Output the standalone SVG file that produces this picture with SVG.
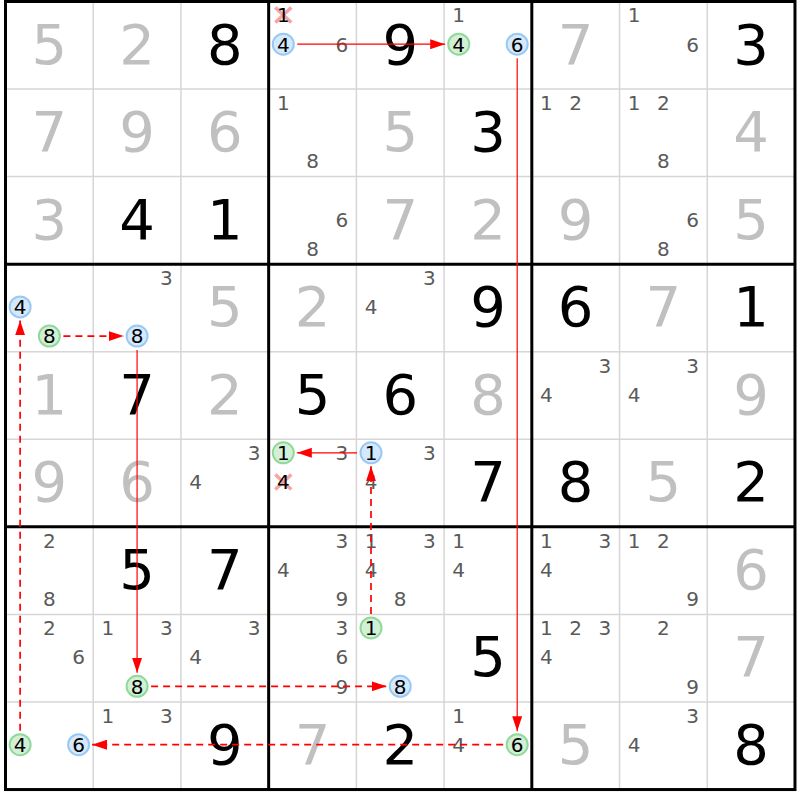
<svg xmlns="http://www.w3.org/2000/svg" width="800" height="800" viewBox="0 0 800 800">
<style>
.thin{stroke:#d6d6d6;stroke-width:1.5}
.thick{stroke:#000;stroke-width:3}
.big{font-family:"DejaVu Sans",Verdana,sans-serif;font-size:56px;text-anchor:middle}
.given{fill:#000}
.solved{fill:#c0c0c0}
.cand{font-family:"DejaVu Sans",Verdana,sans-serif;font-size:20px;text-anchor:middle;fill:#5a5a5a}
.cand .k{fill:#000}
.cb{fill:#d5e9fd;stroke:#99c8f4;stroke-width:2}
.cg{fill:#d3f0d6;stroke:#8fd99b;stroke-width:2}
.xm{stroke:#f39c9c;stroke-width:3.5;stroke-linecap:butt;opacity:0.9}
.sl{stroke:#ff0000;stroke-width:1.2;fill:none}
.dl{stroke:#ff0000;stroke-width:1.7;fill:none;stroke-dasharray:7,5}
</style>
<defs>
<marker id="ah" markerUnits="userSpaceOnUse" markerWidth="15" markerHeight="10" refX="15" refY="5" orient="auto" viewBox="0 0 15 10">
<path d="M0,0 L15,5 L0,10 z" fill="#ff0000"/>
</marker>
</defs>
<rect x="0" y="0" width="800" height="800" fill="#fff"/>
<g id="grid">
<g class="thin">
<line x1="93.22" y1="1.5" x2="93.22" y2="789.54"/>
<line x1="180.94" y1="1.5" x2="180.94" y2="789.54"/>
<line x1="356.38" y1="1.5" x2="356.38" y2="789.54"/>
<line x1="444.1" y1="1.5" x2="444.1" y2="789.54"/>
<line x1="619.54" y1="1.5" x2="619.54" y2="789.54"/>
<line x1="707.26" y1="1.5" x2="707.26" y2="789.54"/>
<line x1="5.5" y1="89.06" x2="794.98" y2="89.06"/>
<line x1="5.5" y1="176.62" x2="794.98" y2="176.62"/>
<line x1="5.5" y1="351.74" x2="794.98" y2="351.74"/>
<line x1="5.5" y1="439.3" x2="794.98" y2="439.3"/>
<line x1="5.5" y1="614.42" x2="794.98" y2="614.42"/>
<line x1="5.5" y1="701.98" x2="794.98" y2="701.98"/>
</g>
<g class="thick">
<line x1="268.66" y1="1.5" x2="268.66" y2="789.54"/>
<line x1="531.82" y1="1.5" x2="531.82" y2="789.54"/>
<line x1="5.5" y1="264.18" x2="794.98" y2="264.18"/>
<line x1="5.5" y1="526.86" x2="794.98" y2="526.86"/>
<rect x="5.5" y="1.5" width="789.48" height="788.04" fill="none"/>
</g>
</g>
<g id="values" class="big">
<text class="solved" x="49.36" y="63.5">5</text>
<text class="solved" x="137.08" y="63.5">2</text>
<text class="given" x="224.8" y="63.5">8</text>
<text class="given" x="400.24" y="63.5">9</text>
<text class="solved" x="575.68" y="63.5">7</text>
<text class="given" x="751.12" y="63.5">3</text>
<text class="solved" x="49.36" y="151.06">7</text>
<text class="solved" x="137.08" y="151.06">9</text>
<text class="solved" x="224.8" y="151.06">6</text>
<text class="solved" x="400.24" y="151.06">5</text>
<text class="given" x="487.96" y="151.06">3</text>
<text class="solved" x="751.12" y="151.06">4</text>
<text class="solved" x="49.36" y="238.62">3</text>
<text class="given" x="137.08" y="238.62">4</text>
<text class="given" x="224.8" y="238.62">1</text>
<text class="solved" x="400.24" y="238.62">7</text>
<text class="solved" x="487.96" y="238.62">2</text>
<text class="solved" x="575.68" y="238.62">9</text>
<text class="solved" x="751.12" y="238.62">5</text>
<text class="solved" x="224.8" y="326.18">5</text>
<text class="solved" x="312.52" y="326.18">2</text>
<text class="given" x="487.96" y="326.18">9</text>
<text class="given" x="575.68" y="326.18">6</text>
<text class="solved" x="663.4" y="326.18">7</text>
<text class="given" x="751.12" y="326.18">1</text>
<text class="solved" x="49.36" y="413.74">1</text>
<text class="given" x="137.08" y="413.74">7</text>
<text class="solved" x="224.8" y="413.74">2</text>
<text class="given" x="312.52" y="413.74">5</text>
<text class="given" x="400.24" y="413.74">6</text>
<text class="solved" x="487.96" y="413.74">8</text>
<text class="solved" x="751.12" y="413.74">9</text>
<text class="solved" x="49.36" y="501.3">9</text>
<text class="solved" x="137.08" y="501.3">6</text>
<text class="given" x="487.96" y="501.3">7</text>
<text class="given" x="575.68" y="501.3">8</text>
<text class="solved" x="663.4" y="501.3">5</text>
<text class="given" x="751.12" y="501.3">2</text>
<text class="given" x="137.08" y="588.86">5</text>
<text class="given" x="224.8" y="588.86">7</text>
<text class="solved" x="751.12" y="588.86">6</text>
<text class="given" x="487.96" y="676.42">5</text>
<text class="solved" x="751.12" y="676.42">7</text>
<text class="given" x="224.8" y="763.98">9</text>
<text class="solved" x="312.52" y="763.98">7</text>
<text class="given" x="400.24" y="763.98">2</text>
<text class="solved" x="575.68" y="763.98">5</text>
<text class="given" x="751.12" y="763.98">8</text>
</g>
<g id="eliminations">
<g id="x-r1c4-1"><line class="xm" x1="275.3" y1="7.5" x2="291.3" y2="22.5"/><line class="xm" x1="291.3" y1="7.5" x2="275.3" y2="22.5"/></g>
<g id="x-r6c4-4"><line class="xm" x1="275.3" y1="474.5" x2="291.3" y2="489.5"/><line class="xm" x1="291.3" y1="474.5" x2="275.3" y2="489.5"/></g>
</g>
<g id="chain-nodes">
<circle id="n-r1c4-4" class="cb" cx="283.28" cy="44.2" r="10.5"/>
<circle id="n-r1c6-4" class="cg" cx="458.72" cy="44.2" r="10.5"/>
<circle id="n-r1c6-6" class="cb" cx="517.2" cy="44.2" r="10.5"/>
<circle id="n-r4c1-4" class="cb" cx="20.12" cy="306.88" r="10.5"/>
<circle id="n-r4c1-8" class="cg" cx="49.36" cy="336.08" r="10.5"/>
<circle id="n-r4c2-8" class="cb" cx="137.08" cy="336.08" r="10.5"/>
<circle id="n-r6c4-1" class="cg" cx="283.28" cy="452.8" r="10.5"/>
<circle id="n-r6c5-1" class="cb" cx="371" cy="452.8" r="10.5"/>
<circle id="n-r8c2-8" class="cg" cx="137.08" cy="686.32" r="10.5"/>
<circle id="n-r8c5-1" class="cg" cx="371" cy="627.92" r="10.5"/>
<circle id="n-r8c5-8" class="cb" cx="400.24" cy="686.32" r="10.5"/>
<circle id="n-r9c1-4" class="cg" cx="20.12" cy="744.68" r="10.5"/>
<circle id="n-r9c1-6" class="cb" cx="78.6" cy="744.68" r="10.5"/>
<circle id="n-r9c6-6" class="cg" cx="517.2" cy="744.68" r="10.5"/>
</g>
<g id="candidates" class="cand">
<text class="k" x="283.28" y="22.3">1</text>
<text class="k" x="283.28" y="51.5">4</text>
<text x="341.76" y="51.5">6</text>
<text x="458.72" y="22.3">1</text>
<text class="k" x="458.72" y="51.5">4</text>
<text class="k" x="517.2" y="51.5">6</text>
<text x="634.16" y="22.3">1</text>
<text x="692.64" y="51.5">6</text>
<text x="283.28" y="109.86">1</text>
<text x="312.52" y="168.26">8</text>
<text x="546.44" y="109.86">1</text>
<text x="575.68" y="109.86">2</text>
<text x="634.16" y="109.86">1</text>
<text x="663.4" y="109.86">2</text>
<text x="663.4" y="168.26">8</text>
<text x="341.76" y="226.62">6</text>
<text x="312.52" y="255.82">8</text>
<text x="692.64" y="226.62">6</text>
<text x="663.4" y="255.82">8</text>
<text class="k" x="20.12" y="314.18">4</text>
<text class="k" x="49.36" y="343.38">8</text>
<text x="166.32" y="284.98">3</text>
<text class="k" x="137.08" y="343.38">8</text>
<text x="429.48" y="284.98">3</text>
<text x="371" y="314.18">4</text>
<text x="604.92" y="372.54">3</text>
<text x="546.44" y="401.74">4</text>
<text x="692.64" y="372.54">3</text>
<text x="634.16" y="401.74">4</text>
<text x="254.04" y="460.1">3</text>
<text x="195.56" y="489.3">4</text>
<text class="k" x="283.28" y="460.1">1</text>
<text x="341.76" y="460.1">3</text>
<text class="k" x="283.28" y="489.3">4</text>
<text class="k" x="371" y="460.1">1</text>
<text x="429.48" y="460.1">3</text>
<text x="371" y="489.3">4</text>
<text x="49.36" y="547.66">2</text>
<text x="49.36" y="606.06">8</text>
<text x="341.76" y="547.66">3</text>
<text x="283.28" y="576.86">4</text>
<text x="341.76" y="606.06">9</text>
<text x="371" y="547.66">1</text>
<text x="429.48" y="547.66">3</text>
<text x="371" y="576.86">4</text>
<text x="400.24" y="606.06">8</text>
<text x="458.72" y="547.66">1</text>
<text x="458.72" y="576.86">4</text>
<text x="546.44" y="547.66">1</text>
<text x="604.92" y="547.66">3</text>
<text x="546.44" y="576.86">4</text>
<text x="634.16" y="547.66">1</text>
<text x="663.4" y="547.66">2</text>
<text x="692.64" y="606.06">9</text>
<text x="49.36" y="635.22">2</text>
<text x="78.6" y="664.42">6</text>
<text x="107.84" y="635.22">1</text>
<text x="166.32" y="635.22">3</text>
<text class="k" x="137.08" y="693.62">8</text>
<text x="254.04" y="635.22">3</text>
<text x="195.56" y="664.42">4</text>
<text x="341.76" y="635.22">3</text>
<text x="341.76" y="664.42">6</text>
<text x="341.76" y="693.62">9</text>
<text class="k" x="371" y="635.22">1</text>
<text class="k" x="400.24" y="693.62">8</text>
<text x="546.44" y="635.22">1</text>
<text x="575.68" y="635.22">2</text>
<text x="604.92" y="635.22">3</text>
<text x="546.44" y="664.42">4</text>
<text x="663.4" y="635.22">2</text>
<text x="692.64" y="693.62">9</text>
<text class="k" x="20.12" y="751.98">4</text>
<text class="k" x="78.6" y="751.98">6</text>
<text x="107.84" y="722.78">1</text>
<text x="166.32" y="722.78">3</text>
<text x="458.72" y="722.78">1</text>
<text x="458.72" y="751.98">4</text>
<text class="k" x="517.2" y="751.98">6</text>
<text x="692.64" y="722.78">3</text>
<text x="634.16" y="751.98">4</text>
</g>
<g id="connectors">
<line class="sl" x1="297.3" y1="44.2" x2="445.2" y2="44.2" marker-end="url(#ah)"/>
<line class="sl" x1="517.2" y1="58.2" x2="517.2" y2="731.2" marker-end="url(#ah)"/>
<line class="sl" x1="357" y1="452.8" x2="296.8" y2="452.8" marker-end="url(#ah)"/>
<line class="dl" x1="371" y1="613.9" x2="371" y2="466.3" marker-end="url(#ah)"/>
<line class="dl" x1="63.4" y1="336.08" x2="123.6" y2="336.08" marker-end="url(#ah)"/>
<line class="sl" x1="137.08" y1="350.1" x2="137.08" y2="672.8" marker-end="url(#ah)"/>
<line class="dl" x1="151.1" y1="686.32" x2="386.7" y2="686.32" marker-end="url(#ah)"/>
<line class="dl" x1="503.2" y1="744.68" x2="92.1" y2="744.68" marker-end="url(#ah)"/>
<line class="dl" x1="20.12" y1="730.7" x2="20.12" y2="320.4" marker-end="url(#ah)"/>
</g>
</svg>
